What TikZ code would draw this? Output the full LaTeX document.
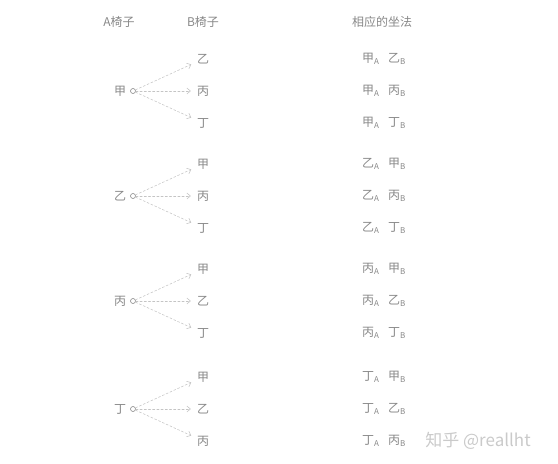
\documentclass[tikz,border=0pt]{standalone}
\usepackage{fontspec}
\setmainfont{Noto Sans CJK SC}
\usetikzlibrary{arrows.meta}
\definecolor{txtgray}{HTML}{888888}
\definecolor{arrgray}{HTML}{C4C4C4}
\definecolor{markgray}{HTML}{CACACA}

\begin{document}
\begin{tikzpicture}[x=1pt, y=-1pt, line cap=round,
  lbl/.style={font=\fontsize{12}{14}\selectfont, text=txtgray, inner sep=1pt},
  pick/.style={draw=arrgray, line width=0.55pt, dash pattern=on 2.2pt off 2pt,
    -{Straight Barb[length=3.5pt,width=6pt]}, shorten >=5pt},
  seat/.style={circle, draw=txtgray, line width=0.6pt, inner sep=0pt, minimum size=5pt}
]
\useasboundingbox (0,0) rectangle (558,464);

%--- Column heads ---
\node[lbl] (headA) at (119,22) {A椅子};
\node[lbl] (headB) at (203,22) {B椅子};
\node[lbl] (headPair) at (382,22) {相应的坐法};

%--- One tree per person in chair A ---
\foreach \g/\y/\r/\p/\q/\s in {1/91/甲/乙/丙/丁, 2/196/乙/甲/丙/丁,
                               3/301/丙/甲/乙/丁, 4/409/丁/甲/乙/丙} {
  \node[lbl] (root\g) at (120,\y) {\r};
  \node[seat] (seat\g) at (133,\y) {};
  \foreach \k/\dy/\c in {1/-32/\p, 2/0/\q, 3/32/\s} {
    \node[lbl] (kid\g-\k) at (203,\y+\dy) {\c};
    \draw[pick] (seat\g) -- (kid\g-\k);
    % matching seating
    \node[lbl, anchor=west] (pairA\g-\k) at (361,\y+\dy) {\r\textsubscript{A}};
    \node[lbl, anchor=west] (pairB\g-\k) at (387,\y+\dy) {\c\textsubscript{B}};
  }
}

% watermark
\node[font=\fontsize{17}{19}\selectfont, text=markgray] (mark) at (478,441) {知乎 @reallht};

\end{tikzpicture}
\end{document}
